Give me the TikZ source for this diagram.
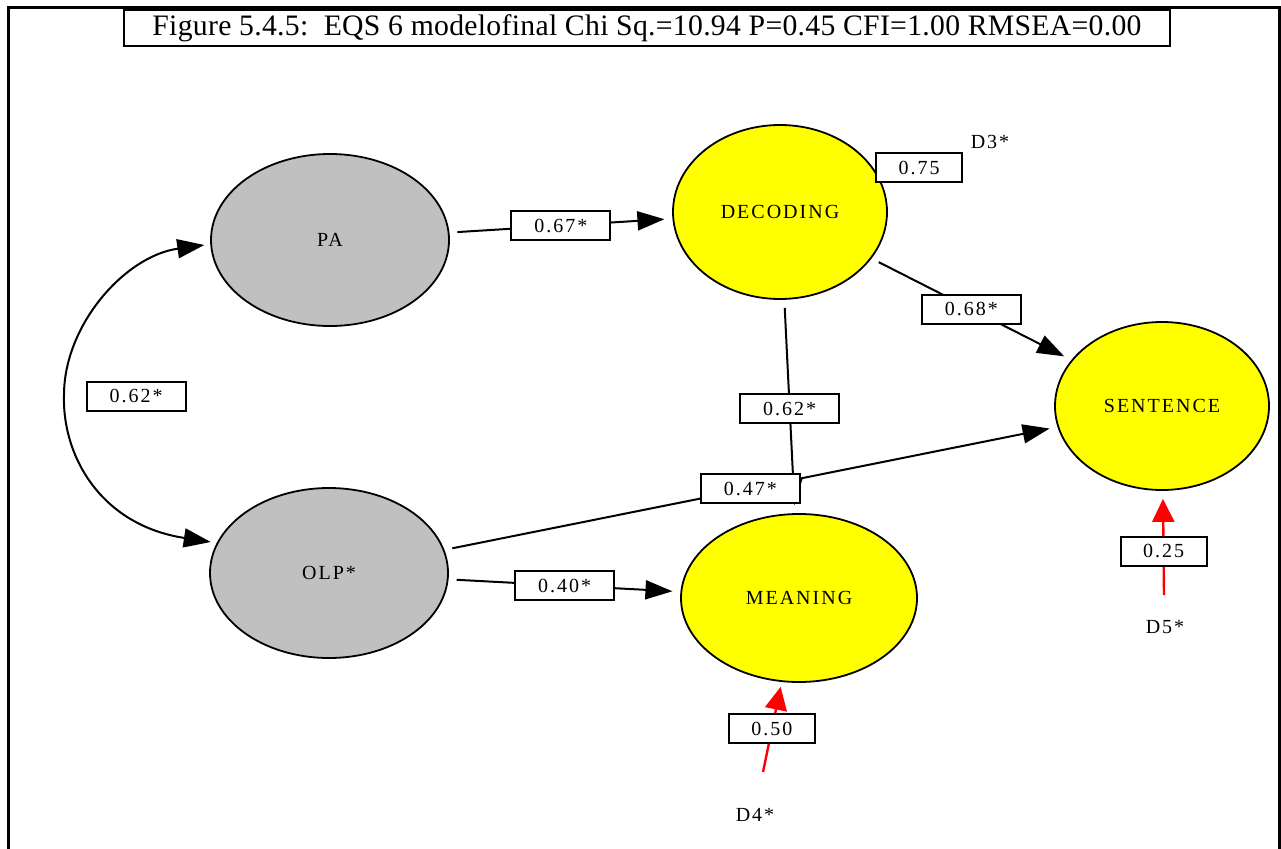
\documentclass[tikz,border=0pt]{standalone}
\usepackage{fontspec}
\setmainfont{Liberation Serif}
\newfontfamily\spacedfont[LetterSpace=10]{Liberation Serif}
\usetikzlibrary{shapes.geometric,arrows.meta}
\tikzset{
  lat/.style={ellipse, draw=black, line width=1.8pt, inner sep=0pt, font=\spacedfont\fontsize{20}{23}\selectfont},
  latgray/.style={lat, fill={rgb,255:red,192;green,192;blue,192}},
  latyel/.style={lat, fill={rgb,255:red,255;green,255;blue,0}},
  coef/.style={draw=black, fill=white, line width=2pt, minimum width=99pt, minimum height=29pt, inner sep=0pt, font=\spacedfont\fontsize{20}{23}\selectfont},
  resid/.style={coef, minimum width=86pt},
  path/.style={line width=2pt, -{Triangle[length=27pt,width=19pt]}, shorten <=8pt, shorten >=8pt},
  rpath/.style={line width=2.4pt, draw={rgb,255:red,255;green,0;blue,0}, -{Triangle[length=23pt,width=22pt]}},
  dlab/.style={font=\spacedfont\fontsize{20}{23}\selectfont, inner sep=0pt},
}
\begin{document}
\begin{tikzpicture}[x=1pt,y=-1pt]
\useasboundingbox (0,0) rectangle (1281,848);
\fill[white] (0,0) rectangle (1281,848);
% outer frame
\draw[line width=3pt] (8.5,850) -- (8.5,8) -- (1279,8) -- (1279,850);
% title
\node[draw=black, line width=2pt, fill=white, minimum width=1046pt, minimum height=36pt, inner sep=0pt, font=\fontsize{29.7}{32}\selectfont\addfontfeatures{LetterSpace=1}] (title) at (647,28) {Figure 5.4.5:\ \ EQS 6 modelofinal Chi Sq.=10.94 P=0.45 CFI=1.00 RMSEA=0.00};
% latent variables
\node[latgray, minimum width=238pt, minimum height=172pt] (PA) at (330,240) {PA};
\node[latgray, minimum width=238pt, minimum height=170pt] (OLP) at (329,573) {OLP*};
\node[latyel, minimum width=214pt, minimum height=174pt] (DEC) at (780,212) {DECODING};
\node[latyel, minimum width=236pt, minimum height=168pt] (MEAN) at (799,598) {MEANING};
\node[latyel, minimum width=214pt, minimum height=168pt] (SENT) at (1162,406) {SENTENCE};
% paths
\draw[path] (PA) -- (DEC) node[coef, pos=0.5] (l1) {0.67*};
\draw[path] (DEC) -- (SENT) node[coef, pos=0.5] (l2) {0.68*};
\draw[path] (DEC) -- (MEAN) node[coef, pos=0.51] (l3) {0.62*};
\draw[path] (OLP) -- (SENT) node[coef, pos=0.499] (l4) {0.47*};
\draw[path] (OLP) -- (MEAN) node[coef, pos=0.5] (l5) {0.40*};
% covariance
\coordinate (cmid) at (64,395);
\draw[line width=2pt, {Triangle[length=27pt,width=19pt]}-{Triangle[length=27pt,width=19pt]}, shorten <=6pt, shorten >=6pt]
  (PA.182) .. controls (125,256) and (64,325) .. (cmid)
  .. controls (62,455) and (100,525) .. (OLP.165);
\node[coef] (l6) at (136,396) {0.62*};
% disturbances
\node[resid] (r3) at (919,167.5) {0.75};
\node[dlab] (D3) at (990,142) {D3*};
\coordinate (d4s) at (763,772);
\draw[rpath, shorten >=5pt] (d4s) -- (MEAN) node[resid, pos=0.48] (r4) {0.50};
\node[dlab] (D4) at (755,815) {D4*};
\coordinate (d5s) at (1164,595);
\draw[rpath, shorten >=8pt] (d5s) -- (SENT) node[resid, pos=0.42] (r5) {0.25};
\node[dlab] (D5) at (1165,627) {D5*};
\end{tikzpicture}
\end{document}
